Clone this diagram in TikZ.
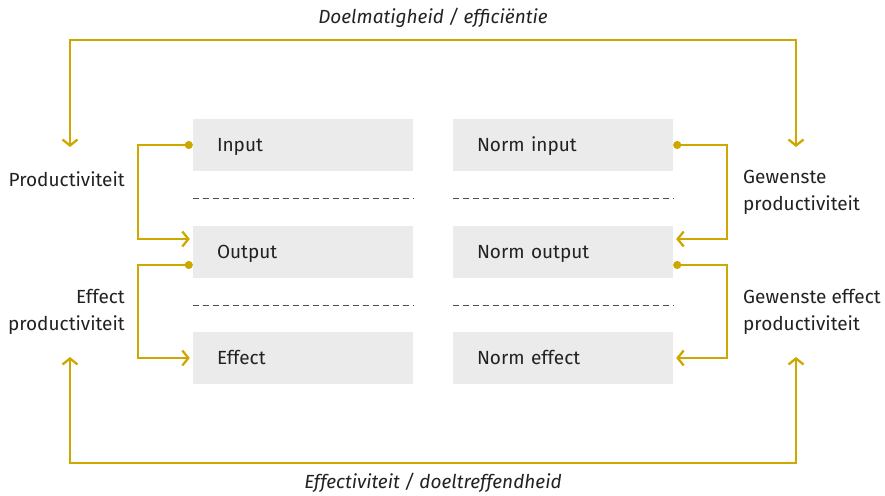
\documentclass[tikz,border=0pt]{standalone}
\usepackage{fontspec}
\setmainfont{Fira Sans}
\usetikzlibrary{arrows.meta,calc}
\definecolor{gold}{RGB}{204,168,0}
\definecolor{boxgray}{RGB}{235,235,235}
\definecolor{ink}{RGB}{34,34,34}

\tikzstyle{field}=[fill=boxgray,text width=172pt,inner xsep=24pt,minimum height=52pt,text height=17pt,text depth=4pt,align=left,text=ink]
\tikzstyle{link} = [draw,gold,line width=2pt,{Circle[length=8pt]}-{Straight Barb[length=6pt,width=15pt,line width=2.3pt]}]
\tikzstyle{loop} = [draw,gold,line width=2pt,{Straight Barb[length=6pt,width=15pt,line width=2.3pt]}-{Straight Barb[length=6pt,width=15pt,line width=2.3pt]}]
\tikzstyle{divider} = [draw,ink!80,line width=0.8pt,dash pattern=on 6pt off 4pt]
\tikzstyle{label} = [text=ink,inner sep=0pt]

\begin{document}
\begin{tikzpicture}[x=1pt,y=-1pt,font=\fontsize{19}{27}\selectfont]
\useasboundingbox (0,0) rectangle (885,495);
\foreach \pos/\name/\txt in {{(303,145)/in/Input}, {(303,252)/out/Output}, {(303,358)/eff/Effect},
                             {(563,145)/nin/Norm input}, {(563,252)/nout/Norm output}, {(563,358)/neff/Norm effect}}{
  \node[field] (\name) at \pos {\txt};
}
\foreach \a/\b in {in/out, out/eff, nin/nout, nout/neff}{
  \path[divider] ($(\a.south west)!0.5!(\b.north west)$) -- ($(\a.south east)!0.5!(\b.north east)$);
}
% side links: out of a box at \sy, into the next at \dy
\foreach \source/\dest/\sy/\dy in {in/out/0/13, out/eff/-13/0}{
  \path[link] ([yshift=\sy pt]\source.west) -- ++(-55,0) |- ([xshift=-3pt,yshift=\dy pt]\dest.west);
}
\foreach \source/\dest/\sy/\dy in {nin/nout/0/13, nout/neff/-13/0}{
  \path[link] ([yshift=\sy pt]\source.east) -- ++(54,0) |- ([xshift=3pt,yshift=\dy pt]\dest.east);
}
% labels
\node[label,anchor=east,align=right] (prod) at (125,179) {Productiviteit};
\node[label,anchor=east,align=right] (effprod) at (125,312) {Effect\\productiviteit};
\node[label,anchor=west,align=left] (gprod) at (743,192) {Gewenste\\productiviteit};
\node[label,anchor=west,align=left] (geffprod) at (743,312) {Gewenste effect\\productiviteit};
\node[label,font=\fontsize{19}{27}\selectfont\itshape] (top) at (433,18) {Doelmatigheid / efficiëntie};
\node[label,font=\fontsize{19}{27}\selectfont\itshape] (bottom) at (433,483) {Effectiviteit / doeltreffendheid};
% outer loops
\coordinate (tl) at (70,147);
\coordinate (tr) at (796,147);
\coordinate (bl) at (70,357);
\coordinate (br) at (796,357);
\path[loop] (tl) -- (70,40) -- (796,40) -- (tr);
\path[loop] (bl) -- (70,463) -- (796,463) -- (br);
\end{tikzpicture}
\end{document}
